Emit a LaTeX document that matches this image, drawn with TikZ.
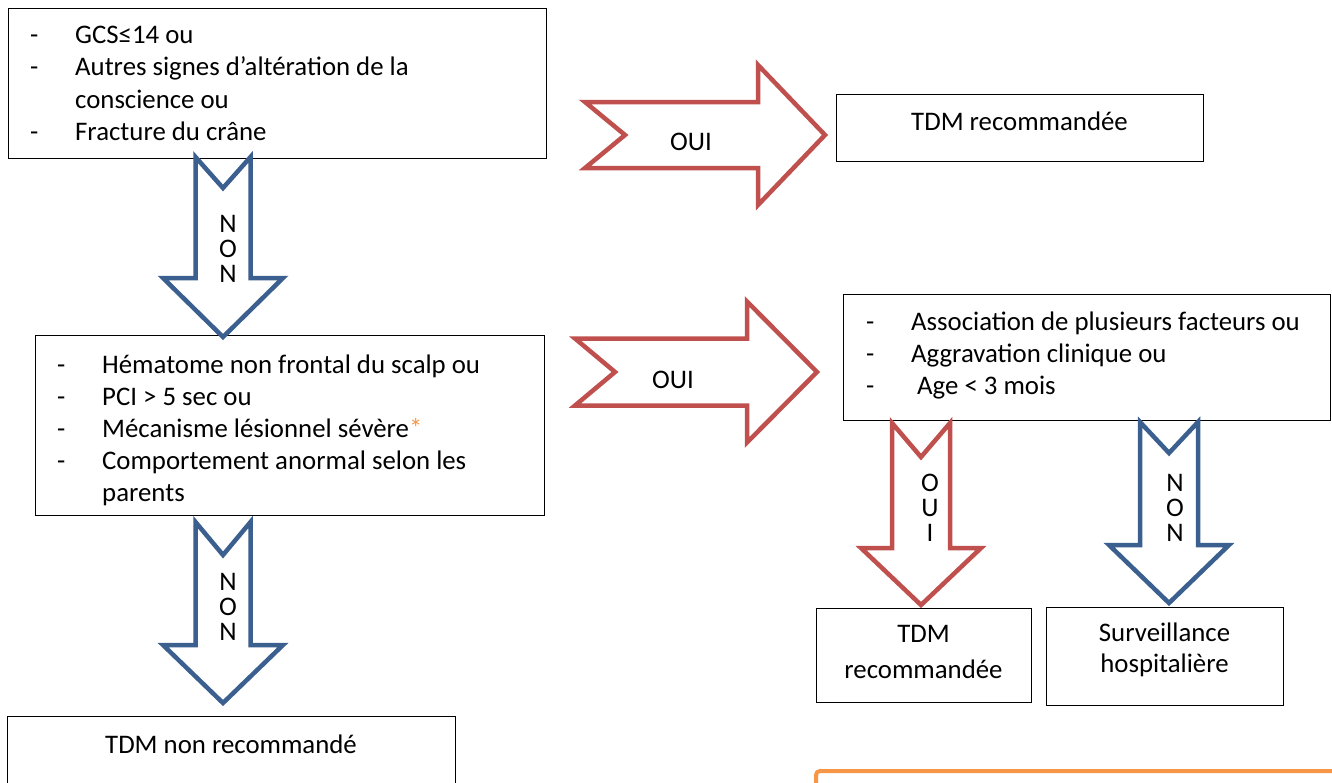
\documentclass[tikz,border=0pt]{standalone}
\usepackage{fontspec}
\setmainfont{Carlito}
\definecolor{arrred}{HTML}{C0504D}
\definecolor{arrblue}{HTML}{3B5F8E}
\definecolor{starorange}{HTML}{F79646}
\tikzset{
  box/.style={draw=black, line width=1.3pt, fill=white, inner sep=0pt, anchor=north west},
  blockarrow/.style={line width=4.5pt, fill=white, line join=miter},
  txt/.style={inner sep=0pt, anchor=base west, font=\fontsize{26.8}{32.5}\selectfont},
  ctxt/.style={inner sep=0pt, anchor=base, font=\fontsize{26.8}{32.5}\selectfont},
  vtxt/.style={inner sep=0pt, align=center, font=\fontsize{26.8}{25}\selectfont},
}
\newcommand\dsh{\makebox[45pt][l]{-}}
% right block arrow: color, tail x, notch x, head base x, tip x, centre y, shaft half, head half
\newcommand\rarr[8]{\draw[blockarrow, draw=#1] (#2,#6-#7) -- (#4,#6-#7) -- (#4,#6-#8) -- (#5,#6) -- (#4,#6+#8) -- (#4,#6+#7) -- (#2,#6+#7) -- (#3,#6) -- cycle;}
% down block arrow: color, top y, notch y, head base y, tip y, centre x, shaft half, head half
\newcommand\darr[8]{\draw[blockarrow, draw=#1] (#6-#7,#2) -- (#6,#3) -- (#6+#7,#2) -- (#6+#7,#4) -- (#6+#8,#4) -- (#6,#5) -- (#6-#8,#4) -- (#6-#7,#4) -- cycle;}
\begin{document}
\begin{tikzpicture}[x=1pt,y=-1pt]
\useasboundingbox (0,0) rectangle (1332,782);
\clip (0,0) rectangle (1332,782);

% boxes
\node[box, minimum width=538pt, minimum height=150pt] (b1) at (8,8) {};
\node[box, minimum width=367pt, minimum height=67pt] (r1) at (836,94) {};
\node[box, minimum width=509pt, minimum height=180pt] (b2) at (35,335) {};
\node[box, minimum width=487pt, minimum height=126pt] (b3) at (843,294) {};
\node[box, minimum width=215pt, minimum height=94pt] (r2) at (816,608) {};
\node[box, minimum width=237pt, minimum height=98pt] (s1) at (1046,607) {};
\node[box, minimum width=448pt, minimum height=90pt] (n1) at (7,716) {};
\draw[starorange, line width=4pt, rounded corners=4pt] (816,800) -- (816,771) -- (1345,771);

% box 1 text
\node[txt] (b1l1) at (30,43) {\dsh GCS≤14 ou};
\node[txt] (b1l2) at (30,75.5) {\dsh Autres signes d’altération de la};
\node[txt] (b1l3) at (75,108) {conscience ou};
\node[txt] (b1l4) at (30,140.5) {\dsh Fracture du crâne};

% box 2 text
\node[txt] (b2l1) at (57,373) {\dsh Hématome non frontal du scalp ou};
\node[txt] (b2l2) at (57,405) {\dsh PCI > 5 sec ou};
\node[txt] (b2l3) at (57,437) {\dsh Mécanisme lésionnel sévère{\color{starorange}*}};
\node[txt] (b2l4) at (57,469) {\dsh Comportement anormal selon les};
\node[txt] (b2l5) at (102,501) {parents};

% box 3 text
\node[txt] (b3l1) at (866,330) {\dsh Association de plusieurs facteurs ou};
\node[txt] (b3l2) at (866,362) {\dsh Aggravation clinique ou};
\node[txt] (b3l3) at (866,394) {\dsh\hspace{6pt}Age < 3 mois};

% result texts
\node[ctxt] (r1t) at (1019.5,130) {TDM recommandée};
\node[ctxt] (r2t1) at (923.5,642) {TDM};
\node[ctxt] (r2t2) at (923.5,678) {recommandée};
\node[ctxt] (s1t1) at (1164.5,641) {Surveillance};
\node[ctxt] (s1t2) at (1164.5,672) {hospitalière};
\node[ctxt] (n1t) at (231,753) {TDM non recommandé};

% block arrows
\rarr{arrred}{585}{625}{758}{825}{135}{33}{70}
\rarr{arrred}{575}{615}{747}{817}{372}{33.5}{70.5}
\darr{arrblue}{157}{188}{278}{337}{223}{27.5}{60}
\darr{arrblue}{522}{555}{645}{703}{223}{27.5}{60}
\darr{arrred}{423}{457}{548}{605}{921}{29}{60}
\darr{arrblue}{422}{453}{545}{603}{1169}{29}{60}

% arrow labels
\node[ctxt] (o1) at (691,150) {OUI};
\node[ctxt] (o2) at (673,388) {OUI};
\node[vtxt] (v1) at (228,249) {N\\O\\N};
\node[vtxt] (v2) at (228,607) {N\\O\\N};
\node[vtxt] (v3) at (930,508) {O\\U\\I};
\node[vtxt] (v4) at (1175,508) {N\\O\\N};
\end{tikzpicture}
\end{document}
